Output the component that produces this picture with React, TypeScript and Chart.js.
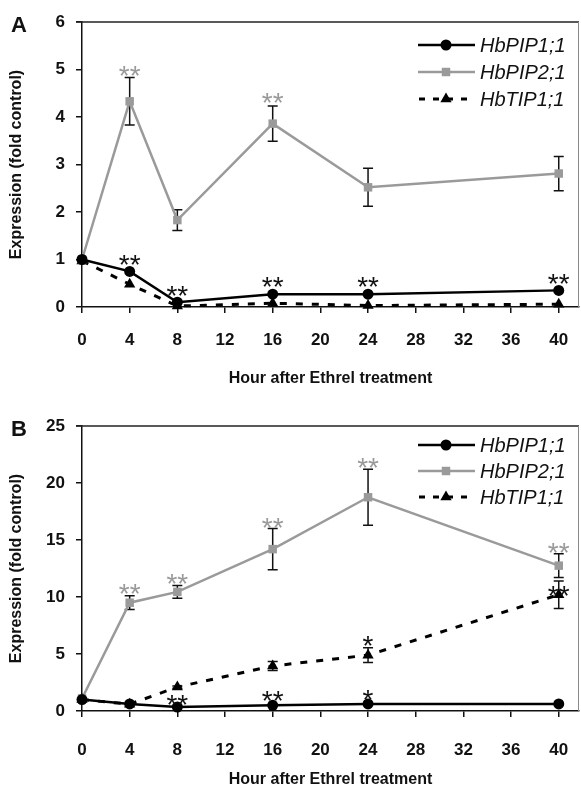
import React, { useEffect, useRef } from 'react';
import { Chart, registerables } from 'chart.js';

Chart.register(...registerables);

// ---------- data ----------
const hours = [0, 4, 8, 16, 24, 40];
const xTicks = [0, 4, 8, 12, 16, 20, 24, 28, 32, 36, 40];
const seriesNames = ['HbPIP1;1', 'HbPIP2;1', 'HbTIP1;1'];
const xTitle = 'Hour after Ethrel treatment';
const yTitle = 'Expression (fold control)';

// Panel A
const aPIP1 = [1.0, 0.75, 0.1, 0.27, 0.27, 0.35];
const aPIP1Err = [0, 0, 0, 0, 0, 0];
const aPIP2 = [1.0, 4.33, 1.83, 3.86, 2.52, 2.81];
const aPIP2Err = [0, 0.5, 0.22, 0.37, 0.4, 0.36];
const aTIP1 = [0.97, 0.48, 0.02, 0.08, 0.03, 0.06];
const aTIP1Err = [0, 0, 0, 0, 0, 0];
const aYTicks = [0, 1, 2, 3, 4, 5, 6];
// significance marks: [series index, point index, text, gap above anchor in px]
const aMarks = [
  [1, 1, '**', 9], [1, 3, '**', 10],
  [0, 1, '**', 13], [0, 2, '**', 13], [0, 3, '**', 14], [0, 4, '**', 14], [0, 5, '**', 13],
];

// Panel B
const bPIP1 = [1.0, 0.62, 0.35, 0.5, 0.62, 0.62];
const bPIP1Err = [0, 0, 0, 0, 0, 0];
const bPIP2 = [1.1, 9.5, 10.45, 14.2, 18.75, 12.75];
const bPIP2Err = [0, 0.6, 0.55, 1.8, 2.45, 1.05];
const bTIP1 = [1.0, 0.6, 2.1, 3.95, 4.9, 10.2];
const bTIP1Err = [0, 0, 0.1, 0.4, 0.65, 1.2];
const bYTicks = [0, 5, 10, 15, 20, 25];
const bMarks = [
  [1, 1, '**', 9], [1, 2, '**', 9], [1, 3, '**', 8], [1, 4, '**', 8], [1, 5, '**', 8],
  [2, 4, '*', 9], [2, 5, '**', -8],
  [0, 2, '**', 9], [0, 3, '**', 11], [0, 4, '*', 11],
];

// ---------- styles ----------
const FONT = '"Liberation Sans", Arial, Helvetica, sans-serif';
const BLACK = '#000000';
const GREY = '#9a9a9a';
const STAR_SIZE = 28;
const seriesStyles = [
  { color: BLACK, shape: 'circle', radius: 5.5, dash: [] as number[], width: 2.5 },
  { color: GREY, shape: 'rect', radius: 6, dash: [] as number[], width: 2.5 },
  { color: BLACK, shape: 'triangle', radius: 6.5, dash: [7, 9], width: 3 },
];

function drawMarker(ctx: CanvasRenderingContext2D, shape: string, x: number, y: number, r: number, color: string) {
  ctx.save();
  ctx.fillStyle = color;
  ctx.beginPath();
  if (shape === 'circle') {
    ctx.arc(x, y, r, 0, Math.PI * 2);
  } else if (shape === 'rect') {
    const s = r * Math.SQRT1_2;
    ctx.rect(x - s, y - s, 2 * s, 2 * s);
  } else {
    let a = 0;
    ctx.moveTo(x + Math.sin(a) * r, y - Math.cos(a) * r);
    a += (2 * Math.PI) / 3;
    ctx.lineTo(x + Math.sin(a) * r, y - Math.cos(a) * r);
    a += (2 * Math.PI) / 3;
    ctx.lineTo(x + Math.sin(a) * r, y - Math.cos(a) * r);
    ctx.closePath();
  }
  ctx.fill();
  ctx.restore();
}

const panelPlugin = {
  id: 'panelPlugin',
  beforeDatasetsDraw(chart: any) {
    const { ctx, scales } = chart;
    const xs = scales.x, ys = scales.y;
    chart.data.datasets.forEach((ds: any) => {
      const errs: number[] = ds.errors || [];
      ds.data.forEach((pt: any, i: number) => {
        const e = errs[i] || 0;
        if (e <= 0) return;
        const x = xs.getPixelForValue(pt.x);
        const yt = ys.getPixelForValue(pt.y + e);
        const yb = ys.getPixelForValue(pt.y - e);
        ctx.save();
        ctx.strokeStyle = '#111';
        ctx.lineWidth = 1.5;
        ctx.beginPath();
        ctx.moveTo(x, yt); ctx.lineTo(x, yb);
        ctx.moveTo(x - 5, yt); ctx.lineTo(x + 5, yt);
        ctx.moveTo(x - 5, yb); ctx.lineTo(x + 5, yb);
        ctx.stroke();
        ctx.restore();
      });
    });
  },
  afterDatasetsDraw(chart: any) {
    const { ctx, scales, chartArea } = chart;
    const xs = scales.x, ys = scales.y;
    const opts = chart.options.plugins.panelPlugin;
    // frame (top and right)
    ctx.save();
    ctx.strokeStyle = '#222';
    ctx.lineWidth = 1.5;
    ctx.beginPath();
    ctx.moveTo(chartArea.left - 6, chartArea.top);
    ctx.lineTo(chartArea.right, chartArea.top);
    ctx.stroke();
    ctx.strokeStyle = '#8a8a8a';
    ctx.lineWidth = 1;
    ctx.beginPath();
    ctx.moveTo(chartArea.right - 0.5, chartArea.top);
    ctx.lineTo(chartArea.right - 0.5, chartArea.bottom);
    ctx.stroke();
    ctx.restore();

    // significance marks
    ctx.save();
    ctx.font = `${STAR_SIZE}px ${FONT}`;
    ctx.textAlign = 'center';
    ctx.textBaseline = 'alphabetic';
    opts.marks.forEach((m: any[]) => {
      const [s, i, text, gap] = m;
      const ds = chart.data.datasets[s];
      const pt = ds.data[i];
      const e = (ds.errors && ds.errors[i]) || 0;
      const x = xs.getPixelForValue(pt.x);
      const yc = ys.getPixelForValue(pt.y + e) - gap;
      ctx.fillStyle = seriesStyles[s].color === GREY ? GREY : '#111';
      ctx.fillText(text, x, yc + 0.57 * STAR_SIZE);
    });
    ctx.restore();

    // legend
    ctx.save();
    const lx0 = chartArea.right - 161;
    const lx1 = chartArea.right - 104;
    const mx = chartArea.right - 133;
    const tx = chartArea.right - 99;
    seriesNames.forEach((name, k) => {
      const st = seriesStyles[k];
      const y = chartArea.top + opts.legendTop + k * opts.legendGap;
      ctx.save();
      ctx.strokeStyle = st.color;
      ctx.lineWidth = st.width;
      ctx.setLineDash(st.dash.length ? [6, 8] : []);
      ctx.lineDashOffset = st.dash.length ? -1 : 0;
      ctx.beginPath();
      ctx.moveTo(lx0, y);
      ctx.lineTo(lx1, y);
      ctx.stroke();
      ctx.restore();
      drawMarker(ctx, st.shape, mx, y, st.radius, st.color);
      ctx.fillStyle = '#111';
      ctx.font = `italic 20px ${FONT}`;
      ctx.textAlign = 'left';
      ctx.textBaseline = 'middle';
      ctx.fillText(name, tx, y + 1);
    });
    ctx.restore();

    // panel letter
    ctx.save();
    ctx.fillStyle = '#111';
    ctx.font = `bold 22px ${FONT}`;
    ctx.textAlign = 'center';
    ctx.textBaseline = 'middle';
    ctx.fillText(opts.letter, 19, chartArea.top + 4);
    ctx.restore();
  },
};

type Panel = {
  letter: string;
  top: number;
  height: number;
  areaTop: number;
  areaBottom: number;
  yMax: number;
  yTicks: number[];
  pip1: number[]; pip1Err: number[];
  pip2: number[]; pip2Err: number[];
  tip1: number[]; tip1Err: number[];
  marks: any[];
  tickPad: number;
  titlePad: number;
  legendTop: number;
  legendGap: number;
};

const panels: Panel[] = [
  {
    letter: 'A', top: 0, height: 395, areaTop: 22, areaBottom: 307, yMax: 6, yTicks: aYTicks,
    pip1: aPIP1, pip1Err: aPIP1Err, pip2: aPIP2, pip2Err: aPIP2Err, tip1: aTIP1, tip1Err: aTIP1Err,
    marks: aMarks, tickPad: 17, titlePad: 7, legendTop: 23, legendGap: 27,
  },
  {
    letter: 'B', top: 395, height: 396, areaTop: 31, areaBottom: 316, yMax: 25, yTicks: bYTicks,
    pip1: bPIP1, pip1Err: bPIP1Err, pip2: bPIP2, pip2Err: bPIP2Err, tip1: bTIP1, tip1Err: bTIP1Err,
    marks: bMarks, tickPad: 23, titlePad: 2, legendTop: 19, legendGap: 26,
  },
];

function makeConfig(p: Panel): any {
  const values = [p.pip1, p.pip2, p.tip1];
  const errs = [p.pip1Err, p.pip2Err, p.tip1Err];
  const datasets = seriesNames.map((name, k) => {
    const st = seriesStyles[k];
    return {
      label: name,
      data: hours.map((h, i) => ({ x: h, y: values[k][i] })),
      errors: errs[k],
      borderColor: st.color,
      backgroundColor: st.color,
      borderWidth: st.width,
      borderDash: st.dash,
      pointStyle: st.shape,
      pointRadius: st.radius,
      pointBorderWidth: 0,
      pointBackgroundColor: st.color,
      tension: 0,
      clip: false,
      fill: false,
    };
  });
  return {
    type: 'line',
    data: { datasets },
    options: {
      responsive: false,
      animation: false,
      devicePixelRatio: 1,
      layout: { autoPadding: false, padding: { top: p.areaTop, right: 2, left: 0, bottom: 0 } },
      plugins: {
        legend: { display: false },
        tooltip: { enabled: false },
        panelPlugin: { marks: p.marks, letter: p.letter, legendTop: p.legendTop, legendGap: p.legendGap },
      },
      scales: {
        x: {
          type: 'linear',
          min: 0,
          max: 41.7,
          afterBuildTicks: (s: any) => { s.ticks = xTicks.map((v) => ({ value: v })); },
          afterFit: (s: any) => {
            s.height = p.height - p.areaBottom;
            s.paddingLeft = 0;
            s.paddingRight = 0;
          },
          grid: { drawOnChartArea: false, drawTicks: true, tickLength: 6, color: '#111', lineWidth: 1.5 },
          border: { display: true, color: '#111', width: 1.5 },
          ticks: {
            autoSkip: false, maxRotation: 0, padding: p.tickPad,
            color: '#111', font: { family: FONT, size: 17, weight: 'bold' },
          },
          title: {
            display: true, text: xTitle, color: '#111',
            font: { family: FONT, size: 16, weight: 'bold' },
            padding: { top: 0, bottom: p.titlePad },
          },
        },
        y: {
          type: 'linear',
          min: 0,
          max: p.yMax,
          afterBuildTicks: (s: any) => { s.ticks = p.yTicks.map((v) => ({ value: v })); },
          afterFit: (s: any) => {
            s.width = 82;
            s.paddingTop = 0;
            s.paddingBottom = 0;
          },
          grid: { drawOnChartArea: false, drawTicks: true, tickLength: 6, color: '#111', lineWidth: 1.5 },
          border: { display: true, color: '#111', width: 1.5 },
          ticks: {
            padding: 11, color: '#111', font: { family: FONT, size: 17, weight: 'bold' },
          },
          title: {
            display: true, text: yTitle, color: '#111',
            font: { family: FONT, size: 16, weight: 'bold' },
            padding: { top: 7, bottom: 4 },
          },
        },
      },
    },
    plugins: [panelPlugin],
  };
}

function PanelChart({ p }: { p: Panel }) {
  const ref = useRef<HTMLCanvasElement | null>(null);
  useEffect(() => {
    if (!ref.current) return;
    const chart = new Chart(ref.current, makeConfig(p));
    return () => chart.destroy();
  }, [p]);
  return (
    <canvas
      ref={ref}
      width={581}
      height={p.height}
      style={{ position: 'absolute', left: 0, top: p.top, width: 581, height: p.height, display: 'block' }}
    />
  );
}

export default function App() {
  return (
    <div style={{ position: 'absolute', left: 0, top: 0, width: 581, height: 791, background: '#fff' }}>
      {panels.map((p) => (
        <PanelChart key={p.letter} p={p} />
      ))}
    </div>
  );
}
